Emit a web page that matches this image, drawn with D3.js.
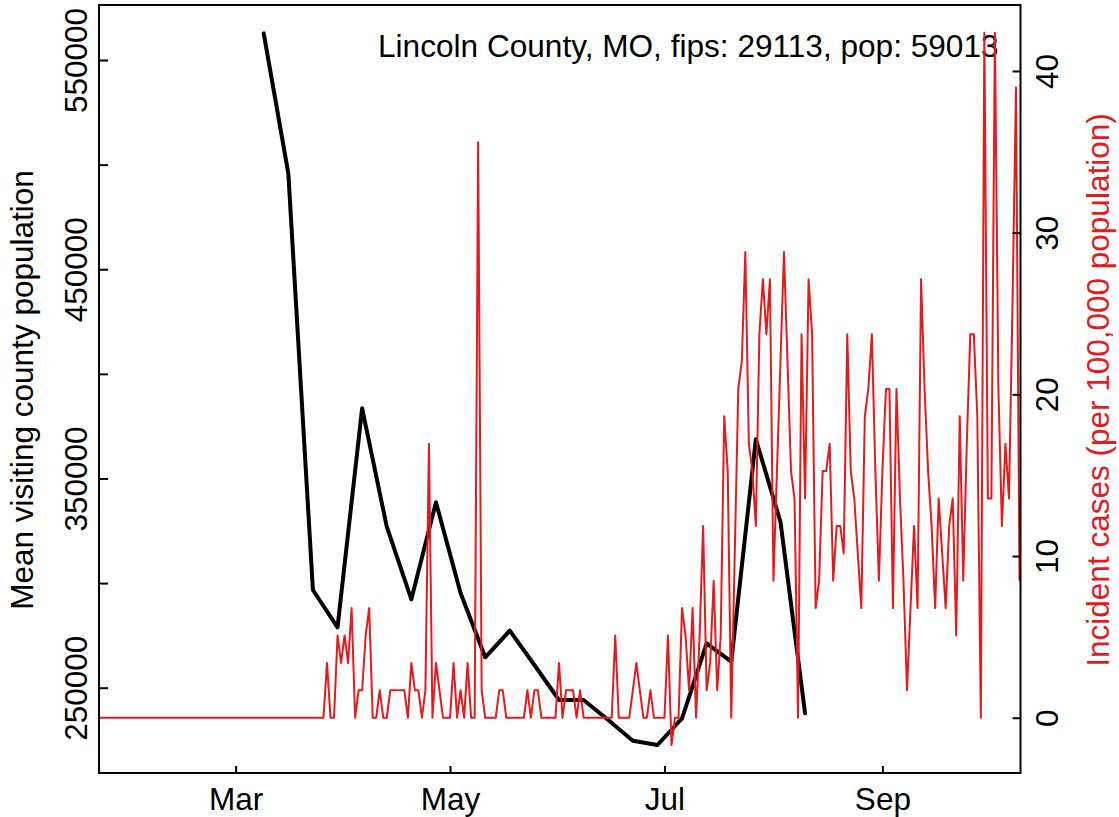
<!DOCTYPE html>
<html><head><meta charset="utf-8">
<script src="https://cdn.jsdelivr.net/npm/d3@7"></script>
<style>
body{margin:0;background:#fff}
svg{display:block;font-family:"Liberation Sans",Arial,Helvetica,sans-serif}
</style>
</head><body><svg id="chart" width="1119" height="817"></svg>
<script>
// ---------- data ----------
const titleText = "Lincoln County, MO, fips: 29113, pop: 59013";
const population = 59013;
const leftAxisTitle = "Mean visiting county population";
const rightAxisTitle = "Incident cases (per 100,000 population)";

// weekly mean visiting county population (black line)
const mobilityDates = ["2020-03-09","2020-03-16","2020-03-23","2020-03-30","2020-04-06","2020-04-13",
  "2020-04-20","2020-04-27","2020-05-04","2020-05-11","2020-05-18","2020-05-25","2020-06-01",
  "2020-06-08","2020-06-15","2020-06-22","2020-06-29","2020-07-06","2020-07-13","2020-07-20",
  "2020-07-27","2020-08-03","2020-08-10"];
const mobilityValues = [562740,495830,296690,278870,383530,326940,292250,338600,295260,264530,
  277240,260850,244120,244120,234560,224670,222620,235380,271220,262430,368710,329330,237770];

// daily new cases (red line, shown per 100,000 population), first day 2020-01-22
const caseStartDate = "2020-01-22";
const dailyCases = [
  // Jan 22-31
  0,0,0,0,0,0,0,0,0,0,
  // Feb
  0,0,0,0,0,0,0,0,0,0,0,0,0,0,0,0,0,0,0,0,0,0,0,0,0,0,0,0,0,
  // Mar
  0,0,0,0,0,0,0,0,0,0,0,0,0,0,0,0,0,0,0,0,0,0,0,0,0,0,2,0,0,3,2,
  // Apr
  3,2,4,0,1,1,3,4,0,0,1,0,0,1,1,1,1,1,0,2,1,1,0,1,10,0,2,1,0,0,
  // May
  0,2,0,1,0,2,0,0,21,1,0,0,0,0,1,1,0,0,0,0,0,0,1,0,1,1,0,0,0,0,0,
  // Jun
  2,0,1,1,1,0,1,0,0,0,0,0,0,0,0,0,3,0,0,0,0,1,2,1,0,0,1,0,0,0,
  // Jul
  0,3,-1,0,0,4,3,1,4,0,3,7,1,2,5,1,3,11,9,0,6,12,13,17,10,9,7,14,16,14,16,
  // Aug
  5,9,13,17,13,9,8,0,14,8,16,14,4,5,9,9,10,5,7,7,6,14,9,8,6,4,11,12,14,9,5,
  // Sep
  9,12,12,4,12,8,5,1,4,7,4,16,12,9,7,4,8,6,4,7,8,3,11,5,10,14,14,11,0,25,
  // Oct 1-10
  8,8,25,12,7,10,8,15,23,5
];

const leftTicks = [250000,300000,350000,400000,450000,500000,550000];
const leftTickLabels = ["250000","","350000","","450000","","550000"];
const rightTicks = [0,10,20,30,40];
const monthTicks = ["2020-03-01","2020-05-01","2020-07-01","2020-09-01"];
const monthLabels = ["Mar","May","Jul","Sep"];

// ---------- chart ----------
const svg = d3.select("#chart");
const plot = {left: 99, right: 1020.5, top: 5, bottom: 773};
const fontSize = 31.5;
const red = "#E41A1C";
const parse = d3.utcParse("%Y-%m-%d");

const x = d3.scaleUtc()
  .domain([parse("2020-01-22"), parse("2020-10-10")])
  .range([98.5, 1019.5]);
const yL = d3.scaleLinear().domain([209230, 576287]).range([plot.bottom, plot.top]);
const yR = d3.scaleLinear().domain([-3.42, 44.08]).range([plot.bottom, plot.top]);

const start = parse(caseStartDate);
const caseData = dailyCases.map((c, i) => ({date: d3.utcDay.offset(start, i), value: c * 100000 / population}));
const mobData = mobilityDates.map((d, i) => ({date: parse(d), value: mobilityValues[i]}));

// title text
svg.append("text")
  .attr("x", 378).attr("y", 57)
  .attr("font-size", 31.6).attr("fill", "#000")
  .text(titleText);

// black line
svg.append("path")
  .datum(mobData)
  .attr("fill", "none").attr("stroke", "#000").attr("stroke-width", 4)
  .attr("stroke-linejoin", "round").attr("stroke-linecap", "round")
  .attr("d", d3.line().x(d => x(d.date)).y(d => yL(d.value)));

// red line
svg.append("path")
  .datum(caseData)
  .attr("fill", "none").attr("stroke", red).attr("stroke-width", 2)
  .attr("stroke-linejoin", "round")
  .attr("d", d3.line().x(d => x(d.date)).y(d => yR(d.value)));

// box
svg.append("rect")
  .attr("x", plot.left).attr("y", plot.top)
  .attr("width", plot.right - plot.left).attr("height", plot.bottom - plot.top)
  .attr("fill", "none").attr("stroke", "#000").attr("stroke-width", 2);

// left axis
const gL = svg.append("g").attr("transform", `translate(${plot.left},0)`)
  .call(d3.axisLeft(yL).tickValues(leftTicks).tickSize(-9).tickSizeOuter(0)
    .tickFormat((d, i) => leftTickLabels[i]));
gL.select(".domain").remove();
gL.selectAll(".tick line").attr("stroke", "#000").attr("stroke-width", 2);
gL.selectAll(".tick text")
  .attr("font-size", fontSize).attr("font-family", "Liberation Sans, Arial, sans-serif")
  .attr("fill", "#000").attr("text-anchor", "middle")
  .attr("transform", "rotate(-90)").attr("x", 0).attr("y", -11.7).attr("dy", null);

// right axis
const gR = svg.append("g").attr("transform", `translate(${plot.right},0)`)
  .call(d3.axisRight(yR).tickValues(rightTicks).tickSize(-8).tickSizeOuter(0));
gR.select(".domain").remove();
gR.selectAll(".tick line").attr("stroke", "#000").attr("stroke-width", 2);
gR.selectAll(".tick text")
  .attr("font-size", fontSize).attr("font-family", "Liberation Sans, Arial, sans-serif")
  .attr("fill", "#000").attr("text-anchor", "middle")
  .attr("transform", "rotate(-90)").attr("x", 0).attr("y", 37.8).attr("dy", null);

// bottom axis
const gB = svg.append("g").attr("transform", `translate(0,${plot.bottom})`)
  .call(d3.axisBottom(x).tickValues(monthTicks.map(parse)).tickSize(-7).tickSizeOuter(0)
    .tickFormat((d, i) => monthLabels[i]));
gB.select(".domain").remove();
gB.selectAll(".tick line").attr("stroke", "#000").attr("stroke-width", 2);
gB.selectAll(".tick text")
  .attr("font-size", fontSize).attr("font-family", "Liberation Sans, Arial, sans-serif")
  .attr("fill", "#000").attr("y", 37).attr("dy", null);

// axis titles
svg.append("text")
  .attr("transform", "translate(33.3,390) rotate(-90)")
  .attr("text-anchor", "middle").attr("font-size", fontSize).attr("fill", "#000")
  .text(leftAxisTitle);
svg.append("text")
  .attr("transform", "translate(1109.3,390) rotate(-90)")
  .attr("text-anchor", "middle").attr("font-size", fontSize).attr("fill", red)
  .text(rightAxisTitle);
</script>
</body></html>
